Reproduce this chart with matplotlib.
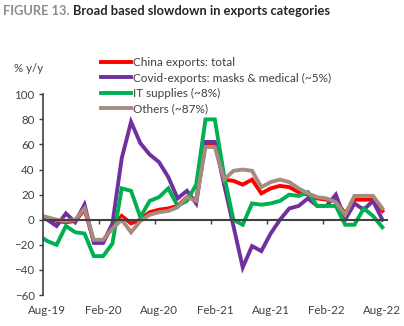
"""China export categories, y/y growth (Figure 13)
"""
import matplotlib
matplotlib.use('Agg')
import matplotlib.pyplot as plt
import numpy as np
import pandas as pd

plt.rcParams['font.family'] = 'Lato'
plt.rcParams['font.size'] = 8.
plt.rcParams['text.color'] = '#404040'
plt.rcParams['xtick.color'] = '#404040'
plt.rcParams['ytick.color'] = '#404040'

# monthly, Jul-19 .. Aug-22 (Jul-19 only shows as the stub at the y axis)
months = list(pd.date_range('2019-07-01', '2022-08-01', freq='MS').strftime('%b-%y'))

total = [2, 1, -1, -2, -1, 8, -17, -17, -6, 3, -3, 0, 6, 8, 9, 11, 18, 16,
         61, 61, 32, 31, 28, 32, 21, 25, 27, 26, 22, 20, 17, 16, 15, 5, 16, 16, 16, 7]
covid = [3, 0, -5, 5, -2, 12, -18.5, -18.5, -3, 49, 78, 61, 52, 46, 34, 17, 23, 13,
         62, 62, 28, -5, -38, -21, -25, -11, 0, 9, 11, 17, 11, 11, 20, 0, 13, 8, 15, 0]
it_supplies = [-12, -17, -20, -5, -10, -11, -29, -29, -19, 25, 23, 2, 15, 18, 25, 11, 15, 28,
               80, 80, 35, 0, -4, 13, 12, 13, 15, 20, 19, 22, 11, 11, 11, -4, -4, 9, 3, -6]
others = [4, 2, 0, -1, 0, 9, -16, -16, -7, 0, -10, -1, 4, 6, 7, 10, 18, 15,
          58, 58, 32, 39, 40, 39, 26, 30, 32, 30, 25, 21, 18, 17, 14, 4, 19, 19, 19, 9]

series_labels = ['China exports: total', 'Covid-exports: masks & medical (~5%)',
                 'IT supplies (~8%)', 'Others (~87%)']
series_colors = ['#ff0000', '#7030a0', '#00b050', '#a68b7e']
tick_months = ['Aug-19', 'Feb-20', 'Aug-20', 'Feb-21', 'Aug-21', 'Feb-22', 'Aug-22']
y_ticks = [-60, -40, -20, 0, 20, 40, 60, 80, 100]


def main():
    fig = plt.figure(figsize=(4.04, 3.26), dpi=100)
    ax = fig.add_axes([43/404, 31/326, 344/404, 200.7/326])

    x = np.arange(len(months)) - 1
    for vals, lab, col in zip([total, covid, it_supplies, others], series_labels, series_colors):
        ax.plot(x, vals, color=col, lw=2.8, label=lab, solid_joinstyle='miter')

    ax.set_xlim(-0.46, 36.5)
    ax.set_ylim(-60, 100)
    ax.set_yticks(y_ticks)
    ax.tick_params(axis='y', length=3, width=1, pad=3, labelsize=8.3)

    for s in ['top', 'right']:
        ax.spines[s].set_visible(False)
    ax.spines['left'].set_color('#404040')
    ax.spines['left'].set_linewidth(1.2)
    ax.spines['bottom'].set_position(('data', 0))
    ax.spines['bottom'].set_color('#404040')
    ax.spines['bottom'].set_linewidth(1.5)

    tick_pos = [x[months.index(m)] for m in tick_months]
    ax.set_xticks(tick_pos)
    ax.set_xticklabels([])
    ax.tick_params(axis='x', which='major', length=0)
    ax.set_xticks([p - 0.4 for p in tick_pos[1:]], minor=True)
    ax.tick_params(axis='x', which='minor', length=3, width=1, direction='out')

    sec = ax.secondary_xaxis(0)
    sec.set_xticks(tick_pos)
    sec.set_xticklabels(tick_months)
    sec.tick_params(length=0, pad=7, labelsize=8.3)
    sec.spines['bottom'].set_visible(False)

    fig.legend(loc='upper left', bbox_to_anchor=(101/404, 1 - 57/326), frameon=False,
               fontsize=8.5, handlelength=2.5, handletextpad=0.2, labelspacing=0.38,
               borderaxespad=0, borderpad=0)

    fig.text(14/404, 1 - 68/326, '% y/y', va='center', ha='left', fontsize=8.3)

    # two-colour title: grey figure number, dark heading right after it
    t1 = fig.text(3/404, 1 - 11/326, 'FIGURE 13. ', fontsize=9.3, fontweight='bold',
                  color='#8c8c8c', va='center', ha='left')
    fig.canvas.draw()
    bb = t1.get_window_extent()
    fig.text(bb.x1 / fig.bbox.width, 1 - 11/326, 'Broad based slowdown in exports categories',
             fontsize=9.3, fontweight='bold', color='#262626', va='center', ha='left')

    fig.savefig('out.png', dpi=100)
    plt.close(fig)


if __name__ == '__main__':
    main()
